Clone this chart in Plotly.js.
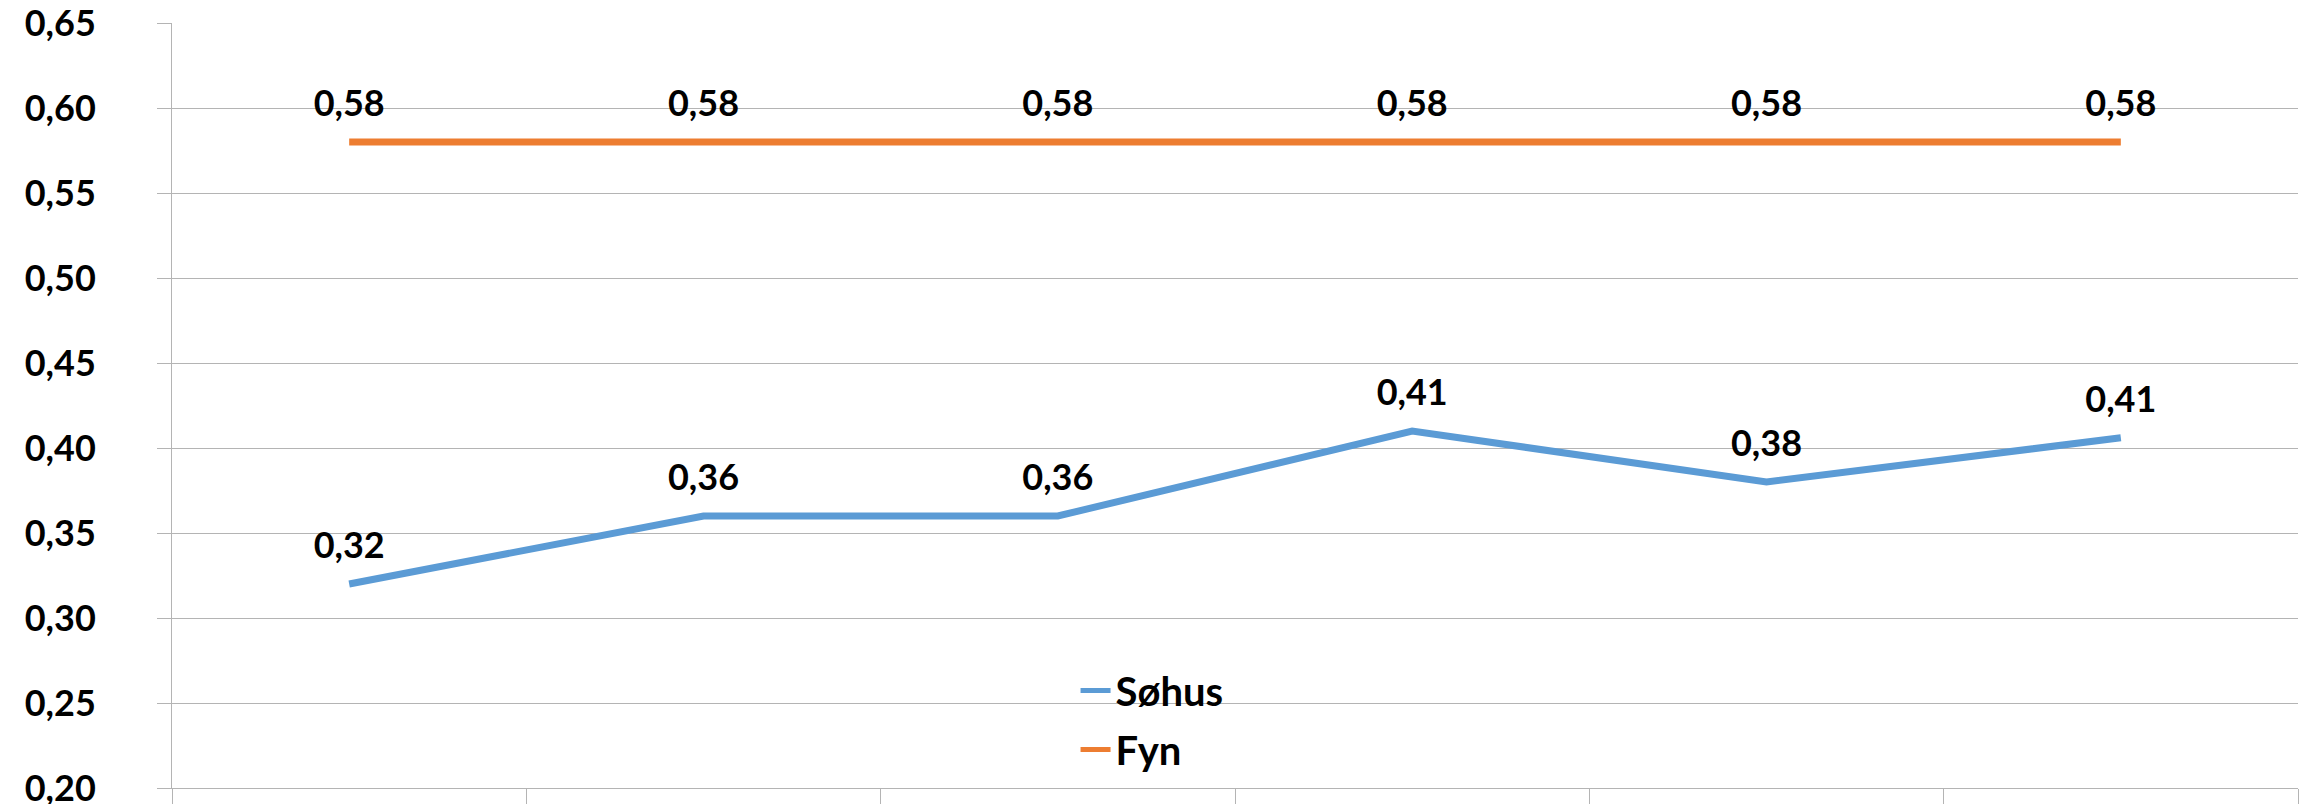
<!DOCTYPE html>
<html>
<head>
<meta charset="utf-8">
<script src="https://cdn.plot.ly/plotly-3.0.1.min.js"></script>
<style>
  html, body { margin: 0; padding: 0; background: #ffffff; }
  #chart { width: 2305px; height: 804px; }
</style>
</head>
<body>
<div id="chart"></div>
<script>
// Data
const kategorier = ['1', '2', '3', '4', '5', '6'];
const sohus = [0.32, 0.36, 0.36, 0.41, 0.38, 0.406];
const fyn = [0.58, 0.58, 0.58, 0.58, 0.58, 0.58];

const gridFarve = '#b4b4b4';
const tekstFont = { family: 'Lato, "Open Sans", sans-serif', size: 36, color: '#000000', weight: 700 };
const legendFont = { family: 'Lato, "Open Sans", sans-serif', size: 40, color: '#000000', weight: 700 };

// Usynlige markører giver afstand mellem linje og dataetiket
function lavSerie(navn, vaerdier, farve, gruppe) {
    return {
        x: kategorier,
        y: vaerdier,
        name: navn,
        type: 'scatter',
        mode: 'lines+markers+text',
        line: { color: farve, width: 7 },
        marker: { size: 26, color: 'rgba(0,0,0,0)' },
        texttemplate: '%{y:.2f}',
        textposition: 'top center',
        textfont: tekstFont,
        legendgroup: gruppe,
        hoverinfo: 'skip'
    };
}

document.addEventListener('DOMContentLoaded', function() {
    const data = [
        lavSerie('Søhus', sohus, '#5B9BD5', 'a'),
        lavSerie('Fyn', fyn, '#ED7D31', 'b')
    ];

    const layout = {
        width: 2305,
        height: 804,
        separators: ', ',
        paper_bgcolor: '#ffffff',
        plot_bgcolor: '#ffffff',
        font: tekstFont,
        margin: { l: 172, r: 7, t: 23, b: 16 },
        xaxis: {
            type: 'category',
            range: [-0.5, 5.5],
            tickson: 'boundaries',
            ticks: 'outside',
            ticklen: 16,
            tickcolor: gridFarve,
            tickwidth: 1,
            showticklabels: false,
            showgrid: false,
            showline: true,
            linecolor: gridFarve,
            linewidth: 1,
            zeroline: false
        },
        yaxis: {
            range: [0.2, 0.65],
            tick0: 0.2,
            dtick: 0.05,
            tickformat: '.2f',
            ticks: 'outside',
            ticklen: 14,
            tickcolor: gridFarve,
            tickwidth: 1,
            ticklabelstandoff: 54,
            ticklabeloverflow: 'allow',
            tickfont: tekstFont,
            showgrid: true,
            gridcolor: gridFarve,
            gridwidth: 1,
            showline: true,
            linecolor: gridFarve,
            linewidth: 1,
            zeroline: false
        },
        legend: {
            x: 0.425,
            y: 0.17,
            xanchor: 'left',
            yanchor: 'top',
            bgcolor: 'rgba(0,0,0,0)',
            font: legendFont,
            traceorder: 'grouped',
            tracegroupgap: 4,
            itemsizing: 'constant'
        },
        showlegend: true
    };

    Plotly.newPlot('chart', data, layout, { staticPlot: true });
});
</script>
</body>
</html>
